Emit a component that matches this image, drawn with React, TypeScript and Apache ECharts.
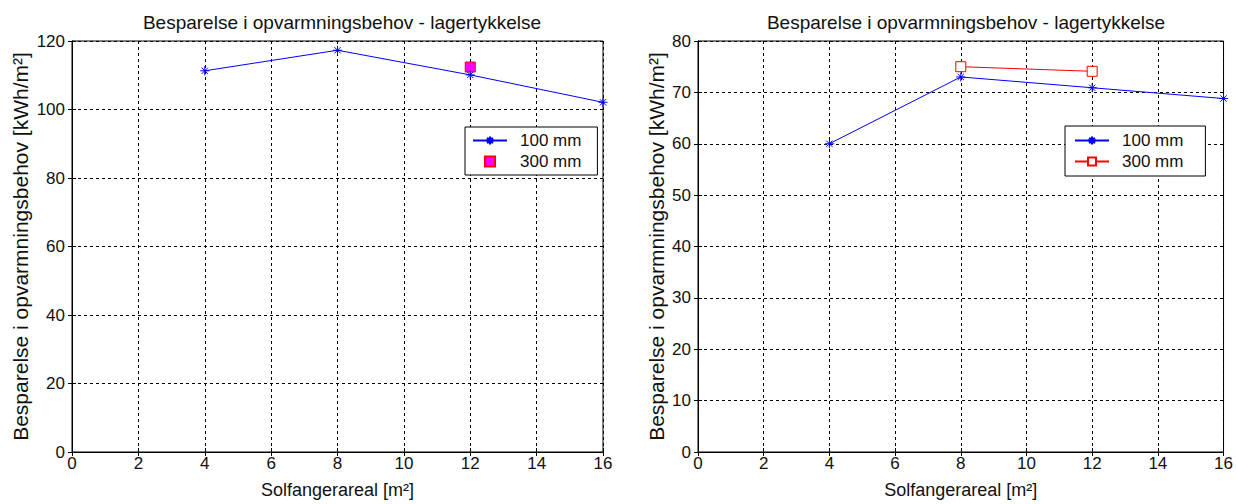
import React, { useEffect, useRef } from "react";
import * as echarts from "echarts";

const titleText = "Besparelse i opvarmningsbehov - lagertykkelse";
const xName = "Solfangerareal [m²]";
const yName = "Besparelse i opvarmningsbehov [kWh/m²]";

const xTicks = [0, 2, 4, 6, 8, 10, 12, 14, 16];
const seriesNames = ["100 mm", "300 mm"];

// Left chart
const left100: [number, number][] = [[4, 111.3], [8, 117.3], [12, 110.1], [16, 102.1]];
const left300: [number, number][] = [[12, 112.4]];
// Right chart
const right100: [number, number][] = [[4, 60], [8, 73], [12, 70.9], [16, 68.8]];
const right300: [number, number][] = [[8, 75], [12, 74.1]];

const FONT = "'Liberation Sans', Arial, sans-serif";
const ASTERISK = "path://M0,5L10,5M5,0L5,10M1.5,1.5L8.5,8.5M8.5,1.5L1.5,8.5";
const SQUARE = "path://M0,0L10,0L10,10L0,10Z";

const tickStyle = { show: true, inside: true, length: 4, lineStyle: { color: "#000" } };
const gridLine = { show: true, lineStyle: { color: "#000", type: [3, 3], width: 1 } };

function xAxis(gridIndex: number) {
  return {
    type: "value",
    gridIndex,
    min: xTicks[0],
    max: xTicks[xTicks.length - 1],
    interval: 2,
    name: xName,
    nameLocation: "middle",
    nameGap: 29,
    nameTextStyle: { fontFamily: FONT, fontSize: 18, color: "#111" },
    axisLine: { show: true, lineStyle: { color: "#000", width: 1 } },
    axisTick: tickStyle,
    axisLabel: { fontFamily: FONT, fontSize: 17, color: "#111", margin: 3 },
    splitLine: gridLine,
  };
}

function xAxisTop(gridIndex: number) {
  return {
    type: "value",
    gridIndex,
    position: "top",
    min: xTicks[0],
    max: xTicks[xTicks.length - 1],
    interval: 2,
    axisLine: { show: true, lineStyle: { color: "#000", width: 1 } },
    axisTick: tickStyle,
    axisLabel: { show: false },
    splitLine: { show: false },
  };
}

function yAxis(gridIndex: number, max: number, interval: number, nameGap: number) {
  return {
    type: "value",
    gridIndex,
    min: 0,
    max,
    interval,
    name: yName,
    nameLocation: "middle",
    nameGap,
    nameTextStyle: { fontFamily: FONT, fontSize: 21, color: "#111" },
    axisLine: { show: true, lineStyle: { color: "#000", width: 1 } },
    axisTick: tickStyle,
    axisLabel: { fontFamily: FONT, fontSize: 17, color: "#111", margin: 7 },
    splitLine: gridLine,
  };
}

function yAxisRight(gridIndex: number, max: number, interval: number) {
  return {
    type: "value",
    gridIndex,
    position: "right",
    min: 0,
    max,
    interval,
    axisLine: { show: true, lineStyle: { color: "#000", width: 1 } },
    axisTick: tickStyle,
    axisLabel: { show: false },
    splitLine: { show: false },
  };
}

const legendBase = {
  orient: "vertical",
  backgroundColor: "#fff",
  borderColor: "#000",
  borderWidth: 1,
  borderRadius: 0,
  padding: [5, 16, 5, 7],
  itemGap: 4,
  itemWidth: 34,
  itemHeight: 10,
  textStyle: { fontFamily: FONT, fontSize: 17, color: "#111", padding: [0, 0, 0, 8] },
  formatter: (n: string) => n.trim(),
};

export default function App() {
  const ref = useRef<HTMLDivElement>(null);
  useEffect(() => {
    if (!ref.current) return;
    const chart = echarts.init(ref.current, null, { renderer: "svg" });
    chart.setOption({
      animation: false,
      backgroundColor: "#fff",
      title: [
        {
          text: titleText,
          left: 337,
          top: 8,
          textAlign: "center",
          textStyle: { fontFamily: FONT, fontSize: 19, fontWeight: "normal", color: "#111" },
        },
        {
          text: titleText,
          left: 961,
          top: 8,
          textAlign: "center",
          textStyle: { fontFamily: FONT, fontSize: 19, fontWeight: "normal", color: "#111" },
        },
      ],
      grid: [
        { left: 72, top: 41, width: 531, height: 414, show: true, borderColor: "#000", borderWidth: 1, backgroundColor: "#fff" },
        { left: 698, top: 41, width: 526, height: 414, show: true, borderColor: "#000", borderWidth: 1, backgroundColor: "#fff" },
      ],
      xAxis: [xAxis(0), xAxis(1), xAxisTop(0), xAxisTop(1)],
      yAxis: [yAxis(0, 120, 20, 41), yAxis(1, 80, 10, 31), yAxisRight(0, 120, 20), yAxisRight(1, 80, 10)],
      legend: [
        {
          ...legendBase,
          left: 465,
          top: 127,
          data: [seriesNames[0], { name: seriesNames[1], icon: SQUARE }],
        },
        {
          ...legendBase,
          left: 1065,
          top: 126,
          padding: [6, 22, 6, 9],
          data: [seriesNames[0] + " ", seriesNames[1] + " "],
        },
      ],
      series: [
        {
          type: "line",
          name: seriesNames[0],
          xAxisIndex: 0,
          yAxisIndex: 0,
          data: left100,
          symbol: ASTERISK,
          symbolSize: 9,
          showAllSymbol: true,
          lineStyle: { color: "#0000ff", width: 1 },
          itemStyle: { color: "rgba(0,0,0,0)", borderColor: "#0000ff", borderWidth: 1 },
        },
        {
          type: "scatter",
          name: seriesNames[1],
          xAxisIndex: 0,
          yAxisIndex: 0,
          data: left300,
          symbol: "rect",
          symbolSize: 10,
          itemStyle: { color: "#ff00ff", borderColor: "#ff0000", borderWidth: 1, opacity: 1 },
        },
        {
          type: "line",
          name: seriesNames[0] + " ",
          xAxisIndex: 1,
          yAxisIndex: 1,
          data: right100,
          symbol: ASTERISK,
          symbolSize: 9,
          showAllSymbol: true,
          lineStyle: { color: "#0000ff", width: 1 },
          itemStyle: { color: "rgba(0,0,0,0)", borderColor: "#0000ff", borderWidth: 1 },
        },
        {
          type: "line",
          name: seriesNames[1] + " ",
          xAxisIndex: 1,
          yAxisIndex: 1,
          data: right300,
          symbol: "rect",
          symbolSize: 10,
          showAllSymbol: true,
          lineStyle: { color: "#ff0000", width: 1 },
          itemStyle: { color: "#fff", borderColor: "#ff0000", borderWidth: 1 },
        },
      ],
    });
    return () => chart.dispose();
  }, []);
  return (
    <div
      ref={ref}
      style={{ position: "fixed", left: 0, top: 0, width: 1236, height: 504, background: "#fff" }}
    />
  );
}
